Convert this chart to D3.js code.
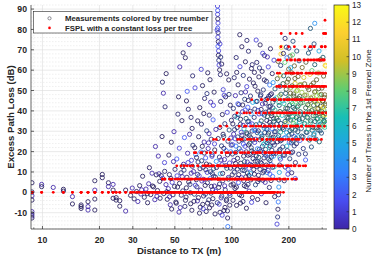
<!DOCTYPE html>
<html>
<head>
<meta charset="utf-8">
<script src="https://d3js.org/d3.v7.min.js"></script>
<style>
  body { margin: 0; background: #fff; }
  svg text { font-family: "Liberation Sans", Arial, Helvetica, sans-serif; fill: #262626; }
</style>
</head>
<body>
<svg id="chart" width="374" height="259"></svg>
<script>

// measurements: [distance (m), excess loss (dB), trees in 1st Fresnel zone, darker run]
const nearTx = [
    [8.8,4.7,0,1],[8.8,0.2,0,1],[8.8,-1.7,0,0],[8.8,-3.8,0,1],[8.8,-9.5,0,0],[8.8,-10.6,0,1],[8.8,-11.6,0,0],[8.8,-12.6,0,1],
    [9.9,3.9,0,0],[9.9,2.8,0,1],[11.4,2.4,0,0],[12.9,1.5,0,1],[12.9,0.6,0,1],[14.4,-2.1,0,0],[14.4,-5.7,0,1],
    [16,-6.2,0,1],[16,-7,0,1],[16,-7.9,0,1],[17.4,-4.6,0,1],[17.4,-7,0,0],[17.4,-8.7,0,0],
    [18.9,-8.7,0,1],[18.9,-3.3,0,1],[18.9,1.1,0,0],[18.9,5.7,0,1],[20.7,8.8,0,1],[20.7,7.2,0,1],
    [22.3,4.7,0,1],[22.3,2.8,0,0],[23.6,3.9,0,0],[23.6,1.1,0,1],[23.6,-2.9,0,1],[24.5,-2.6,0,1],[24.5,-3.8,0,1],
    [25.6,-4.1,0,1],[25.6,-6.8,0,1],[27.5,-9.2,0,0],[27.5,1.1,0,1]
];

const band30 = [
    [29.2,-1.5,0,1],[29.8,2.1,0,0],[30.5,-3.2,0,1],[31.4,0.4,0,1],[31.9,-4.5,0,0],[32.6,3.3,0,1],[33.1,-0.8,0,0],
    [33.8,7.9,0,1],[34.5,-2.4,0,1],[35.2,1.6,0,0],[35.9,-5.1,0,1],[36.4,4.2,0,0],[37.3,-1.1,0,1],[37.9,9.4,0,0],
    [38.6,2.7,0,1],[39.2,-3.6,0,0],[39.9,8.6,0,1],[40.5,0.9,0,1],[41.2,9.1,0,0],[41.8,-2.9,0,1],[42.4,8.2,0,1],
    [43.1,6.9,1,0],[43.7,-0.6,0,1],[44.2,10.3,1,1],[44.9,3.8,0,0],[39.5,22.5,0,0],[42.8,27.4,0,1],[44.1,14.6,1,0],
    [36.7,12.1,0,1],[40.9,17.8,0,0],[43.0,54.1,1,1],[43.5,48.7,0,0],[44.4,42.0,1,1],[45.0,58.3,0,1]
];

const band45 = [
    [45.6,-3.4,0,1],[46.2,1.8,0,0],[46.8,8.7,1,1],[47.3,-6.1,0,0],[47.9,24.6,0,1],[48.4,4.9,1,0],[48.9,-1.2,0,1],
    [49.5,29.8,0,0],[50.1,11.3,1,1],[50.6,-4.8,0,1],[51.2,16.4,2,0],[51.7,2.6,0,1],[52.3,46.9,0,1],[52.8,21.7,1,0],
    [53.4,-7.5,0,0],[53.9,9.6,2,1],[54.5,35.2,0,1],[55.1,0.7,1,1],[55.6,13.8,0,0],[56.2,26.9,2,0],[56.8,66.1,0,1],
    [57.3,-2.3,0,1],[57.9,7.4,1,1],[58.4,19.2,0,0],[58.9,40.8,1,1],[59.5,72.6,0,0],[60.1,3.9,2,1],[60.6,-5.6,0,1],
    [61.2,15.7,1,0],[61.7,31.4,0,1],[62.3,23.1,2,1],[62.8,10.2,0,0],[63.4,-0.9,3,1],[63.9,51.3,1,0],[64.5,18.6,3,0],
    [64.9,6.2,0,1],[46.5,18.3,0,1],[49.2,15.1,0,0],[51.9,38.4,1,1],[54.8,12.7,0,1],[57.6,44.9,0,1],[59.8,28.5,0,0],
    [62.1,57.2,1,1],[53.1,61.6,0,0],[55.3,68.5,0,1],[58.1,49.6,2,0],[60.9,36.8,1,1],[48.1,-8.2,0,1],[52.6,-9.7,0,0],
    [56.5,-6.9,1,1],[61.5,-8.8,0,1]
];

const band65 = [
    [65.4,2.7,1,1],[65.8,-4.2,0,0],[66.3,14.9,2,1],[66.8,27.3,0,1],[67.2,8.1,1,0],[67.7,41.6,0,1],[68.1,-7.3,0,1],
    [68.6,19.8,3,0],[69.1,33.5,1,1],[69.5,5.6,0,0],[70.0,52.4,0,1],[70.4,12.3,2,1],[70.9,-1.8,1,1],[71.4,24.7,0,0],
    [71.8,46.1,1,1],[72.3,3.4,0,1],[72.7,16.9,2,0],[73.2,-9.4,0,1],[73.7,30.2,3,1],[74.1,9.8,1,0],[74.6,58.7,0,1],
    [75.0,21.5,0,0],[75.5,-3.7,2,1],[76.0,37.9,1,1],[76.4,13.4,0,1],[76.9,6.8,3,0],[77.3,44.3,0,0],[77.8,26.1,2,1],
    [78.3,-6.2,0,1],[78.7,18.4,1,1],[79.2,1.3,0,0],[79.6,35.6,2,0],[80.1,11.7,4,1],[80.6,49.2,0,1],[81.0,23.8,1,0],
    [81.5,-10.6,0,1],[81.9,7.5,3,1],[82.4,30.9,0,0],[82.8,15.2,4,0],[66.0,35.1,0,1],[68.9,60.4,1,0],[71.1,38.7,0,1],
    [73.9,48.5,2,1],[76.7,55.3,0,1],[79.9,42.7,1,0],[67.5,-10.2,0,1],[70.6,-8.1,1,0],[74.4,-5.3,0,1],[77.6,-0.4,1,1],
    [80.9,3.1,0,0],[69.8,22.6,0,1],[72.9,11.1,1,1],[75.8,28.8,0,0],[78.9,9.2,2,1]
];

const peakColumn = [
    [84.0,91.5,1,0],[84.2,89.3,2,0],[84.1,87.4,1,0],[84.3,85.2,0,1],[84.5,83.1,1,0],[84.2,80.6,2,0],[84.6,78.4,1,1],
    [84.4,76.2,1,0],[84.8,74.0,0,1],[84.5,71.7,2,0],[85.1,69.5,1,0],[84.9,67.3,0,1],[85.3,64.8,2,1],[85.6,62.5,1,0],
    [86.2,60.1,0,1],[87.0,57.8,1,1],[86.5,72.9,1,0],[87.3,66.4,2,1],[88.4,63.0,0,1],[83.6,79.7,1,0]
];

const band85 = [
    [85.2,2.4,0,1],[85.7,-5.8,1,0],[86.0,17.3,2,1],[86.4,31.9,0,1],[86.9,9.1,5,0],[87.3,44.6,1,1],[87.8,-2.7,0,0],
    [88.2,22.8,3,1],[88.7,13.6,1,0],[89.1,38.2,0,1],[89.6,5.7,2,1],[90.0,50.4,1,0],[90.5,27.4,4,1],[90.9,-8.9,0,1],
    [91.4,16.1,0,0],[91.8,33.7,2,1],[92.3,1.2,1,1],[92.7,46.9,0,1],[93.2,20.5,3,0],[93.6,-4.1,0,1],[94.1,11.8,5,1],
    [94.5,39.3,1,0],[95.0,-12.6,0,1],[95.2,-16.8,3,0],[95.4,25.1,2,1],[95.9,7.3,0,0],[96.3,55.2,0,1],[96.8,30.6,4,1],
    [97.2,14.4,1,0],[97.7,-1.5,2,1],[98.1,42.8,0,1],[98.6,19.9,3,0],[99.0,3.6,0,1],[99.5,35.4,1,1],[86.6,-9.8,0,1],
    [88.9,-11.2,1,0],[92.0,-7.4,0,1],[94.8,-9.1,1,1],[97.5,-6.3,0,1],[89.9,28.5,0,1],[91.1,47.7,1,0],[93.9,58.2,0,1],
    [96.6,48.1,2,1],[98.8,26.7,0,0]
];

const lowCloud = [
    [33.4,1.2,0,0],[35.8,-0.6,0,1],[38.1,3.1,0,1],[40.2,-1.9,0,0],[41.6,5.4,0,1],[45.3,0.3,0,1],[46.9,-2.2,0,0],
    [47.7,6.8,1,1],[49.8,2.9,0,1],[50.9,-5.3,0,1],[51.4,8.1,1,0],[52.9,4.4,0,1],[54.1,-1.4,1,1],[54.7,7.7,0,0],
    [55.9,10.9,2,1],[56.9,-3.9,0,1],[57.5,2.2,0,1],[58.7,14.6,1,0],[59.2,5.1,0,1],[60.3,-0.2,1,1],[61.0,9.4,0,0],
    [61.9,12.8,2,1],[63.1,-4.4,0,1],[63.7,21.9,0,1],[64.2,3.5,1,0],[65.1,17.1,0,1],[65.9,8.8,2,1],[66.6,-2.6,0,1],
    [67.9,11.6,1,1],[68.4,1.1,0,0],[69.3,15.5,3,1],[70.2,-5.9,0,1],[71.0,6.4,1,0],[71.6,19.3,0,1],[72.5,-0.9,2,1],
    [73.4,13.9,0,1],[74.3,4.7,1,1],[75.3,24.3,0,0],[76.2,-7.6,0,1],[77.1,10.1,3,1],[78.0,2.9,0,1],[78.5,17.7,1,0],
    [79.4,-3.1,0,1],[80.3,7.9,2,1],[81.2,20.8,0,1],[82.1,0.5,1,0],[83.0,12.2,0,1],[83.8,-5.1,2,1],[84.7,26.4,0,1],
    [86.1,4.1,1,1],[87.6,15.9,0,0],[88.5,-1.8,3,1],[89.4,9.3,0,1],[90.7,21.6,1,1],[91.6,3.2,0,0],[92.9,13.1,2,1],
    [93.8,-3.4,1,1],[94.9,18.4,0,1],[96.0,6.5,4,1],[97.1,-0.5,0,0],[98.3,11.9,1,1],[99.2,23.2,2,1]
];

const band100 = [
    [100.4,8.6,0,1],[100.9,23.4,1,0],[101.4,-3.9,0,1],[101.9,41.2,2,1],[102.4,15.7,0,0],[102.9,56.3,1,1],[103.4,30.8,3,1],
    [103.9,1.9,0,1],[104.4,47.5,0,0],[104.9,19.6,2,1],[105.4,66.2,1,1],[105.9,-6.4,0,1],[106.4,36.9,6,0],[106.9,11.4,1,1],
    [107.4,27.2,4,1],[107.9,52.8,0,1],[108.4,4.8,2,0],[108.9,43.1,0,1],[109.4,21.5,5,1],[109.9,-1.2,0,1],[110.4,61.7,1,0],
    [110.9,33.4,3,1],[111.4,14.3,0,1],[111.9,48.9,2,1],[112.4,7.2,1,0],[112.9,71.5,0,1],[113.4,25.9,4,1],[113.9,39.6,0,0],
    [114.4,-4.5,1,1],[114.9,57.4,2,1],[115.4,17.8,0,1],[115.9,31.2,6,0],[116.4,3.3,0,1],[116.9,45.7,3,1],[117.4,22.6,1,0],
    [117.9,64.1,0,1],[118.4,12.9,2,1],[118.9,36.3,5,1],[119.4,-7.8,0,1],[119.9,51.9,1,0],[120.4,28.7,0,1],[120.9,9.5,4,1],
    [121.4,41.8,2,0],[121.9,18.2,0,1],[122.4,69.3,1,1],[122.9,34.9,3,1],[123.4,0.6,0,0],[123.9,55.6,0,1],[124.4,24.1,6,1],
    [124.9,13.7,1,0],[125.4,47.3,2,1],[125.9,6.1,0,1],[126.4,38.5,4,0],[126.9,60.8,0,1],[127.4,20.4,7,1],[127.9,30.1,1,1],
    [128.4,-2.6,0,1],[128.9,44.2,5,0],[129.4,16.6,2,1],[129.9,53.7,0,1],[101.2,33.6,0,1],[104.1,26.3,1,0],[106.1,58.9,0,1],
    [108.1,38.2,2,1],[110.1,77.4,0,1],[112.1,29.5,1,0],[114.1,42.9,0,1],[116.1,10.7,2,1],[118.1,49.3,0,0],[120.1,74.6,1,1],
    [122.1,45.1,0,1],[124.1,33.2,2,0],[126.1,26.8,0,1],[128.1,62.7,1,1],[103.1,12.4,1,1],[107.1,6.9,0,0],[111.1,-5.3,0,1],
    [115.1,23.7,2,0],[119.1,2.8,1,1],[123.1,8.3,0,1],[127.1,-4.9,1,0]
];

const band130 = [
    [130.5,11.2,0,1],[131.2,36.8,2,1],[131.9,24.5,1,0],[132.6,52.1,0,1],[133.3,3.7,3,1],[134.0,44.6,5,0],[134.7,17.9,0,1],
    [135.4,63.8,1,1],[136.1,29.3,4,1],[136.8,-3.5,0,1],[137.5,40.2,2,0],[138.2,8.4,1,1],[138.9,56.7,0,1],[139.6,21.1,6,1],
    [140.3,33.7,3,0],[141.0,72.4,0,1],[141.7,14.8,2,1],[142.4,47.9,1,1],[143.1,-0.7,0,0],[143.8,26.5,7,1],[144.5,59.4,0,1],
    [145.2,38.6,4,0],[145.9,5.9,1,1],[146.6,50.3,2,1],[147.3,19.4,0,1],[148.0,31.6,5,0],[148.7,67.2,1,1],[149.4,12.1,3,1],
    [150.1,43.8,0,1],[150.8,24.9,6,0],[151.5,-5.1,0,1],[152.2,54.5,2,1],[152.9,35.3,1,1],[153.6,9.7,4,0],[154.3,46.1,0,1],
    [155.0,28.2,7,1],[155.7,61.6,1,0],[156.4,16.3,2,1],[157.1,39.9,0,1],[157.8,2.4,1,1],[158.5,52.7,3,0],[159.2,22.8,0,1],
    [159.9,70.5,0,1],[160.6,33.1,5,1],[161.3,13.6,2,0],[162.0,48.4,1,1],[162.7,26.7,6,1],[163.4,58.3,0,1],[164.1,7.8,3,0],
    [164.8,41.5,4,1],[165.5,19.1,0,1],[166.2,36.2,7,1],[166.9,64.9,1,0],[167.6,29.7,2,1],[168.3,-2.1,0,1],[169.0,50.8,5,1],
    [131.6,58.9,0,1],[134.4,74.8,1,0],[137.1,49.7,0,1],[139.9,61.1,2,1],[142.8,40.7,0,1],[145.6,68.3,1,0],[148.4,55.2,0,1],
    [151.2,39.4,3,1],[154.0,66.5,0,0],[156.8,47.2,2,1],[159.6,42.3,1,1],[162.4,37.6,0,1],[165.2,53.9,4,0],[168.0,45.6,0,1],
    [133.0,30.4,2,0],[136.4,15.2,3,1],[139.2,6.3,1,1],[142.1,28.7,5,0],[145.0,22.6,2,1],[147.9,10.4,0,1],[150.6,18.2,3,0],
    [153.3,30.9,4,1],[156.1,25.4,5,1],[158.8,8.9,2,0],[161.7,17.3,3,1],[164.5,24.3,2,1],[167.2,12.5,6,0]
];

const coreNear = [
    [100.7,18.8,1,1],[101.6,4.1,0,1],[102.2,28.6,0,0],[103.0,9.9,2,1],[103.6,37.4,1,1],[104.6,14.2,0,1],[105.1,22.7,3,0],
    [105.7,2.6,0,1],[106.6,31.8,1,1],[107.2,16.7,0,1],[107.7,43.5,2,0],[108.7,8.7,0,1],[109.1,25.1,1,1],[110.6,12.6,4,1],
    [111.2,35.9,0,1],[111.7,20.3,2,0],[112.6,-1.7,0,1],[113.1,28.1,1,1],[113.6,10.9,3,1],[114.7,32.9,0,0],[115.6,5.7,1,1],
    [116.2,26.2,0,1],[116.7,15.1,5,1],[117.6,40.4,2,0],[118.6,7.6,0,1],[119.2,19.9,1,1],[119.6,29.3,6,1],[120.6,14.9,0,0],
    [121.2,34.7,3,1],[121.7,3.9,1,1],[122.6,23.3,0,1],[123.2,11.8,2,0],[123.7,27.9,4,1],[124.6,18.6,0,1],[125.2,39.8,1,1],
    [125.7,9.2,5,0],[126.6,21.9,2,1],[127.2,13.2,0,1],[127.7,33.6,1,0],[129.1,25.7,3,1],
    [130.2,19.5,1,1],[130.9,30.7,4,0],[131.5,8.9,0,1],[132.2,40.9,2,1],[132.9,15.3,1,1],[133.7,26.1,0,0],[134.3,33.2,6,1],
    [135.1,12.7,2,1],[135.8,44.7,0,1],[136.5,21.4,3,0],[137.2,5.3,1,1],[137.9,30.2,0,1],[138.6,17.2,5,1],[139.3,38.5,1,0],
    [140.1,25.8,0,1],[140.8,11.3,2,1],[141.5,47.3,3,1],[142.2,20.1,0,0],[143.0,35.1,7,1],[143.6,14.2,1,1],[144.3,27.6,4,1],
    [145.1,43.4,0,0],[145.8,9.6,2,1],[146.5,32.8,1,1],[147.1,23.7,6,0],[147.8,16.9,0,1],[148.6,37.9,2,1],[149.3,29.4,3,1],
    [150.0,4.9,0,0],[150.7,21.1,5,1],[151.4,45.6,1,1],[152.0,13.4,0,1],[152.8,31.5,4,0],[153.5,24.4,2,1],[154.1,37.2,7,1],
    [154.9,18.8,1,1],[155.6,10.8,0,0],[156.2,29.1,3,1],[157.0,42.1,2,1],[157.7,22.1,6,0],[158.4,34.4,0,1],[159.0,15.6,4,1],
    [159.8,47.9,1,1],[160.5,26.3,5,0],[161.1,5.8,0,1],[161.9,38.8,7,1],[162.6,20.7,2,1],[163.3,31.2,3,0],[164.0,12.3,1,1],
    [164.6,44.3,6,1],[165.4,27.1,0,1],[166.1,17.8,4,0],[166.8,34.9,5,1],[167.5,23.2,2,1],[168.9,40.4,7,0],[170.1,29.8,3,1],
    [171.0,19.2,1,1],[171.9,46.4,6,0],[172.8,33.6,4,1],[174.0,24.8,0,1]
];

const column175 = [
    [173.2,-15.6,1,0],[174.5,-12.1,2,1],[175.1,-8.3,0,1],[175.8,-4.7,3,0],[176.4,-1.2,2,1],[177.0,2.6,4,0],[177.5,6.1,3,1],
    [178.1,9.8,5,0],[178.7,13.4,1,1],[179.2,17.2,6,0],[179.8,21.1,4,1],[180.3,25.3,0,1],[180.9,29.6,7,0],[181.4,33.8,2,1],
    [176.9,38.2,8,0],[177.8,42.7,5,1],[178.6,47.4,9,0],[179.5,52.1,1,1],[180.2,57.6,10,0],[181.0,62.3,3,1],[181.7,67.9,11,0],
    [182.3,71.2,12,0],[172.6,36.4,8,1],[173.9,55.8,9,1],[174.7,26.9,6,0],[175.5,64.3,10,1]
];

const band185 = [
    [185.1,31.7,2,1],[186.0,44.9,4,0],[186.9,18.3,1,1],[187.8,57.2,6,1],[188.7,26.6,3,0],[189.6,39.5,7,1],[190.5,63.8,8,0],
    [191.4,12.4,1,1],[192.3,48.6,5,1],[193.2,33.9,9,0],[194.1,71.3,2,1],[195.0,22.7,6,0],[195.9,54.1,10,1],[196.8,41.2,3,1],
    [197.7,8.9,1,0],[198.6,36.4,7,1],[199.5,60.5,11,1],[200.4,28.1,4,1],[201.3,46.7,8,0],[202.2,16.5,3,1],[203.1,66.9,12,1],
    [204.0,38.8,5,1],[204.9,51.4,9,0],[205.8,24.3,2,1],[206.7,58.7,10,1],[207.6,31.2,6,1],[208.5,43.6,7,0],[209.4,19.8,1,1],
    [210.3,74.2,4,1],[211.2,35.7,8,0],[212.1,48.3,9,1],[213.0,27.4,2,0],[213.9,62.1,11,1],[214.8,40.9,6,1],[215.7,53.5,10,0],
    [216.6,14.6,1,1],[217.5,33.1,7,0],[218.4,45.8,12,1],[219.3,23.9,1,1],[220.2,69.4,5,1],[221.1,37.3,8,0],[222.0,50.2,9,0],
    [222.9,29.8,4,1],[223.8,56.9,10,1],[224.7,42.5,7,0],[225.6,18.7,2,1],[226.5,64.6,4,1],[227.4,34.6,6,0],[228.3,47.1,8,1],
    [229.2,25.5,2,0],[187.2,68.2,0,1],[191.0,75.6,1,1],[195.5,66.1,3,0],[199.9,70.8,2,1],[204.5,61.2,5,0],[209.0,67.5,8,0],
    [189.1,5.7,1,1],[198.2,11.3,2,0],[207.1,9.6,1,1],[216.1,6.8,2,0]
];

const coreMid = [
    [175.9,35.3,5,1],[176.6,27.8,3,1],[177.3,44.1,7,0],[178.0,20.4,2,1],[178.9,31.6,6,1],[179.6,39.7,8,1],[180.6,16.3,1,0],
    [181.8,48.2,7,1],[183.1,25.7,4,1],[184.2,37.8,6,0],[185.6,22.3,2,1],[186.4,53.4,8,1],[187.5,30.9,5,1],[188.3,43.6,7,0],
    [189.9,18.2,3,1],[190.9,34.8,6,1],[191.9,26.9,4,0],[192.8,41.3,8,1],[193.7,50.6,9,1],[194.6,29.4,5,0],[195.4,36.9,7,1],
    [196.3,20.5,2,1],[197.2,45.9,6,1],[198.1,32.2,4,0],[199.0,55.6,9,1],[200.1,38.6,8,1],[201.0,24.6,3,0],[201.9,42.8,7,1],
    [202.8,30.3,6,1],[203.7,48.7,10,1],[204.6,35.5,5,1],[205.5,19.4,2,1],[206.3,44.5,8,0],[207.2,28.7,4,1],[208.1,52.3,9,1],
    [209.1,37.1,7,0],[209.9,25.2,5,1],[210.8,41.7,6,1],[211.7,33.8,8,0],[212.6,47.2,9,1],[213.5,22.8,2,1],[214.4,39.2,7,0],
    [215.3,55.9,10,1],[216.2,30.6,5,1],[217.1,44.4,8,0],[218.0,26.5,4,1],[218.9,36.7,6,1],[219.8,49.8,9,0],[220.7,32.4,7,1],
    [221.6,41.9,8,1],[223.4,27.3,5,0],[225.1,46.2,9,1],[226.9,35.8,6,1],[228.6,52.7,10,1],[229.7,39.6,7,1]
];

const band230 = [
    [230.6,38.4,7,1],[232.1,52.9,9,0],[233.7,27.6,5,1],[235.2,61.3,12,1],[236.8,44.1,8,0],[238.3,21.5,2,1],[239.9,56.4,10,0],
    [241.4,33.8,6,1],[243.0,47.7,11,1],[244.5,18.9,2,1],[246.1,63.9,9,1],[247.6,39.2,7,0],[249.2,29.4,4,1],[250.7,51.6,10,1],
    [252.3,36.5,8,0],[253.8,68.4,5,1],[255.4,42.8,9,0],[256.9,25.7,6,1],[258.5,57.9,11,0],[260.0,34.1,7,0],[261.6,46.3,10,1],
    [263.1,22.3,4,1],[264.7,59.8,8,0],[266.2,40.6,9,0],[267.8,31.9,5,1],[269.3,53.7,10,1],[270.9,28.2,7,1],[272.4,44.9,11,1],
    [274.0,62.7,6,1],[275.5,37.4,8,0],[277.1,49.5,9,0],[278.6,26.1,4,1],[280.2,55.3,10,1],[281.7,35.8,7,0],[283.3,43.2,8,1],
    [284.8,30.7,5,1],[286.4,58.6,9,0],[287.9,41.1,10,0],[289.5,24.8,6,1],[291.0,47.8,8,0],[292.6,33.3,7,1],[294.1,65.2,10,1],
    [295.7,38.9,9,0],[297.2,29.1,4,1],[298.8,51.2,11,1],[300.3,36.2,8,0],[301.9,44.7,7,1],[303.4,32.5,9,0],[305.0,57.1,10,1],
    [306.5,40.3,8,0],[308.1,34.7,5,1],[309.6,47.9,12,1],[310.4,38.1,13,0],[311.2,62.4,11,0],[312.7,42.6,9,1],[314.2,35.4,6,0],
    [245.0,15.9,2,0],[259.3,70.6,4,1],[271.7,72.9,4,1],[288.6,69.4,5,0],[302.7,66.3,6,1],[260.0,80.5,5,1],[274.0,83.0,4,0],
    [313.5,62.0,12,0]
];

const coreFar = [
    [231.2,43.8,8,1],[232.8,31.4,5,1],[234.3,49.1,9,0],[235.9,36.2,7,1],[237.4,27.2,4,1],[239.0,45.6,8,0],[240.6,38.3,6,1],
    [242.1,53.3,10,1],[243.7,33.7,7,0],[245.3,41.5,8,1],[246.8,29.6,5,1],[248.4,47.8,9,0],[250.0,36.9,6,1],[251.5,43.1,8,1],
    [253.1,31.1,7,0],[254.6,50.4,10,1],[256.2,39.5,8,1],[257.8,26.8,4,0],[259.4,45.2,9,1],[260.9,35.1,7,1],[262.5,52.6,11,1],
    [264.0,40.1,8,1],[265.6,30.5,6,1],[267.1,46.8,9,0],[268.7,37.6,7,1],[270.3,42.7,8,1],[271.8,28.9,5,0],[273.4,49.3,10,1],
    [274.9,34.8,6,1],[276.5,44.2,9,0],[278.1,39.1,7,1],[279.6,31.7,8,1],[281.2,47.5,9,0],[282.8,36.3,7,1],[284.3,41.2,10,1],
    [285.9,33.1,6,0],[287.4,50.9,9,1],[289.0,38.7,8,1],[290.6,45.1,10,0],[292.1,30.2,5,1],[293.7,42.3,9,1],[295.2,35.9,7,0],
    [296.8,48.1,11,1],[298.4,39.8,8,1],[299.9,33.6,6,0],[301.5,44.9,10,1],[303.0,37.3,9,1],[304.6,41.8,12,0],[306.1,35.2,8,1],
    [307.7,46.6,10,1],[309.3,31.9,7,0],[310.8,43.4,11,1],[312.4,38.8,9,1],[313.9,33.9,8,0]
];

// model: free space path loss plus a constant loss for each tree
const lossPerTree = 6.5;

const xTicks = [10, 20, 30, 50, 100, 200];
const xMinor = [9, 40, 60, 70, 80, 90, 300];
const yTicks = [-10, 0, 10, 20, 30, 40, 50, 60, 70, 80, 90];
const colourTicks = d3.range(0, 14);
const legendLabels = ["Measurements colored by tree number", "FSPL with a constant loss per tree"];

// parula, sampled every 8th entry
const parula = ["#3e26a8", "#484cf0", "#3281fd", "#20a5e3", "#18bfb6", "#63cd6f",
                "#d1bf27", "#fccf30", "#f9fa14"];


class LossChart {

    constructor(measurements) {
        this.measurements = measurements;
        this.model = measurements.map(function (d) { return [d[0], d[2] * lossPerTree]; });

        this.plot = {"left": 31, "right": 327, "top": 5, "bottom": 229};
        this.bar = {"x": 334, "width": 15};

        this.x = d3.scaleLog().domain([8.7, 318]).range([this.plot.left, this.plot.right]);
        this.y = d3.scaleLinear().domain([-18, 92]).range([this.plot.bottom, this.plot.top]);

        let maxTrees = 13;
        this.colour = d3.scaleLinear()
            .domain(parula.map(function (c, i) { return i * maxTrees / (parula.length - 1); }))
            .range(parula)
            .interpolate(d3.interpolateRgb);
        this.barScale = d3.scaleLinear().domain([0, maxTrees]).range([this.plot.bottom, this.plot.top]);

        this.svg = d3.select("#chart");
    }

    drawGrid() {
        let p = this.plot;
        let g = this.svg.append("g");
        let yMinor = d3.range(-18, 93, 2).filter(function (v) { return v % 10 != 0; });

        g.selectAll("line.ymin").data(yMinor).enter().append("line")
            .attr("x1", p.left).attr("x2", p.right)
            .attr("y1", d => this.y(d)).attr("y2", d => this.y(d))
            .attr("stroke", "#e4e4e4").attr("stroke-width", 0.6).attr("stroke-dasharray", "1.5,1.5");

        g.selectAll("line.xmin").data(xMinor).enter().append("line")
            .attr("y1", p.top).attr("y2", p.bottom)
            .attr("x1", d => this.x(d)).attr("x2", d => this.x(d))
            .attr("stroke", "#e4e4e4").attr("stroke-width", 0.6).attr("stroke-dasharray", "1.5,1.5");

        g.selectAll("line.ymaj").data(yTicks).enter().append("line")
            .attr("x1", p.left).attr("x2", p.right)
            .attr("y1", d => this.y(d)).attr("y2", d => this.y(d))
            .attr("stroke", "#dcdcdc").attr("stroke-width", 0.6);

        g.selectAll("line.xmaj").data(xTicks).enter().append("line")
            .attr("y1", p.top).attr("y2", p.bottom)
            .attr("x1", d => this.x(d)).attr("x2", d => this.x(d))
            .attr("stroke", "#dcdcdc").attr("stroke-width", 0.6);
    }

    drawPoints() {
        let thisClass = this;
        this.svg.append("clipPath").attr("id", "plotClip")
            .append("rect")
            .attr("x", this.plot.left).attr("y", this.plot.top)
            .attr("width", this.plot.right - this.plot.left)
            .attr("height", this.plot.bottom - this.plot.top);

        let g = this.svg.append("g").attr("clip-path", "url(#plotClip)");

        g.selectAll("circle.meas").data(this.measurements).enter().append("circle")
            .attr("cx", d => this.x(d[0]))
            .attr("cy", d => this.y(d[1]))
            .attr("r", 2.1)
            .attr("fill", "none")
            .attr("stroke-width", 0.85)
            .attr("stroke", function (d) {
                let c = thisClass.colour(d[2]);
                if (d[3] == 1) {
                    return d3.interpolateRgb(c, "#15152a")(0.6);
                }
                return c;
            });

        g.selectAll("circle.model").data(this.model).enter().append("circle")
            .attr("cx", d => this.x(d[0]))
            .attr("cy", d => this.y(d[1]))
            .attr("r", 1.4)
            .attr("fill", "#ff0000");
    }

    drawAxes() {
        let p = this.plot;
        let g = this.svg.append("g");
        let stroke = "#262626";

        g.append("line").attr("x1", p.left).attr("x2", p.left).attr("y1", p.top).attr("y2", p.bottom)
            .attr("stroke", stroke).attr("stroke-width", 0.7);
        g.append("line").attr("x1", p.left).attr("x2", p.right).attr("y1", p.bottom).attr("y2", p.bottom)
            .attr("stroke", stroke).attr("stroke-width", 0.7);

        // ticks point inwards
        g.selectAll("line.xt").data(xTicks).enter().append("line")
            .attr("x1", d => this.x(d)).attr("x2", d => this.x(d))
            .attr("y1", p.bottom).attr("y2", p.bottom - 3)
            .attr("stroke", stroke).attr("stroke-width", 0.7);
        g.selectAll("line.xm").data(xMinor).enter().append("line")
            .attr("x1", d => this.x(d)).attr("x2", d => this.x(d))
            .attr("y1", p.bottom).attr("y2", p.bottom - 1.6)
            .attr("stroke", stroke).attr("stroke-width", 0.6);
        g.selectAll("line.yt").data(yTicks).enter().append("line")
            .attr("y1", d => this.y(d)).attr("y2", d => this.y(d))
            .attr("x1", p.left).attr("x2", p.left + 3)
            .attr("stroke", stroke).attr("stroke-width", 0.7);

        g.selectAll("text.xl").data(xTicks).enter().append("text")
            .attr("x", d => this.x(d))
            .attr("y", 242.5)
            .attr("text-anchor", "middle")
            .attr("font-size", "8.7px").attr("font-weight", "bold")
            .text(d => d);

        g.selectAll("text.yl").data(yTicks).enter().append("text")
            .attr("x", 27)
            .attr("y", d => this.y(d) + 3.1)
            .attr("text-anchor", "end")
            .attr("font-size", "8.7px").attr("font-weight", "bold")
            .text(d => d);

        g.append("text")
            .attr("x", (p.left + p.right) / 2)
            .attr("y", 253.5)
            .attr("text-anchor", "middle")
            .attr("font-size", "9.6px").attr("font-weight", "bold")
            .text("Distance to TX (m)");

        g.append("text")
            .attr("transform", "translate(13.5," + ((p.top + p.bottom) / 2) + ") rotate(-90)")
            .attr("text-anchor", "middle")
            .attr("font-size", "9.6px").attr("font-weight", "bold")
            .text("Excess Path Loss (dB)");
    }

    drawLegend() {
        let g = this.svg.append("g");
        g.append("rect")
            .attr("x", 33.5).attr("y", 11.5).attr("width", 178.5).attr("height", 21.5)
            .attr("fill", "#fff").attr("stroke", "#262626").attr("stroke-width", 0.6);

        let rows = g.selectAll("g.entry").data(legendLabels).enter().append("g")
            .attr("transform", (d, i) => "translate(0," + (18.3 + i * 9.6) + ")");

        rows.append("text")
            .attr("x", 65).attr("y", 2.8)
            .attr("font-size", "7.8px").attr("font-weight", "bold")
            .text(d => d);

        rows.filter((d, i) => i == 0).append("circle")
            .attr("cx", 49.5).attr("cy", 0).attr("r", 1.6)
            .attr("fill", "none").attr("stroke", "#6e6e78").attr("stroke-width", 0.8);
        rows.filter((d, i) => i == 1).append("circle")
            .attr("cx", 49.5).attr("cy", 0).attr("r", 1.3)
            .attr("fill", "#ff0000");
    }

    drawColourbar() {
        let b = this.bar;
        let p = this.plot;
        let grad = this.svg.append("defs").append("linearGradient")
            .attr("id", "parulaGrad")
            .attr("x1", 0).attr("x2", 0).attr("y1", 1).attr("y2", 0);
        grad.selectAll("stop").data(parula).enter().append("stop")
            .attr("offset", (d, i) => i / (parula.length - 1))
            .attr("stop-color", d => d);

        let g = this.svg.append("g");
        g.append("rect")
            .attr("x", b.x).attr("y", p.top).attr("width", b.width).attr("height", p.bottom - p.top)
            .attr("fill", "url(#parulaGrad)").attr("stroke", "#262626").attr("stroke-width", 0.7);

        g.selectAll("line.ct").data(colourTicks).enter().append("line")
            .attr("x1", b.x + b.width).attr("x2", b.x + b.width - 2.5)
            .attr("y1", d => this.barScale(d)).attr("y2", d => this.barScale(d))
            .attr("stroke", "#262626").attr("stroke-width", 0.6);

        g.selectAll("text.cl").data(colourTicks).enter().append("text")
            .attr("x", 352)
            .attr("y", d => this.barScale(d) + 3)
            .attr("font-size", "8.2px")
            .text(d => d);

        g.append("text")
            .attr("transform", "translate(371," + ((p.top + p.bottom) / 2 + 4) + ") rotate(-90)")
            .attr("text-anchor", "middle")
            .attr("font-size", "8px")
            .text("Number of Trees in the 1st Fresnel Zone");
    }

    draw() {
        this.drawGrid();
        this.drawPoints();
        this.drawAxes();
        this.drawLegend();
        this.drawColourbar();
    }
}

let measurements = [].concat(nearTx, band30, band45, band65, peakColumn, band85, lowCloud,
                             band100, band130, coreNear, column175, band185, coreMid,
                             band230, coreFar);
let chart = new LossChart(measurements);
chart.draw();

</script>
</body>
</html>
